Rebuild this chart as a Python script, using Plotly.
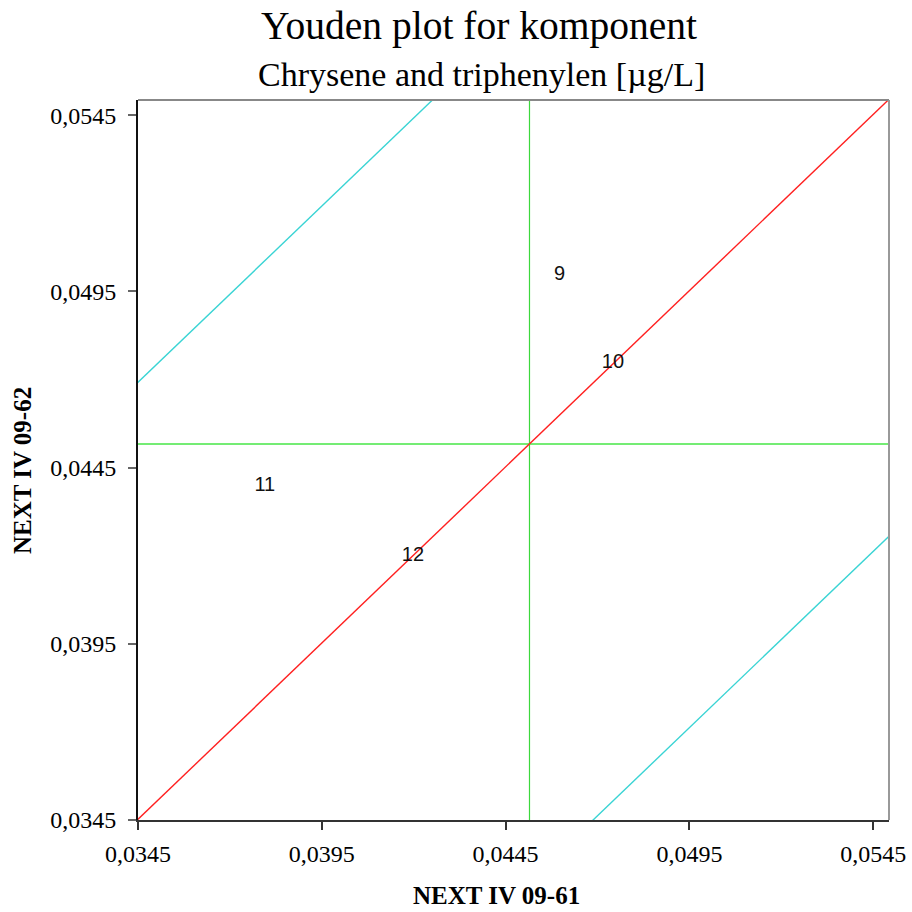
import plotly.graph_objects as go

# Laboratory results for the two samples
labs = ["9", "10", "11", "12"]
sample_61 = [0.04597, 0.04742, 0.03795, 0.04198]
sample_62 = [0.04997, 0.04746, 0.04397, 0.04198]

# Medians of the two samples and the offset of the acceptance limits
median_61 = 0.04515
median_62 = 0.04517
limit_offset = 0.0124

axis_range = [0.0345, 0.05493]
tick_values = [0.0345, 0.0395, 0.0445, 0.0495, 0.0545]

title_lines = ["Youden plot for komponent", "Chrysene and triphenylen [µg/L]"]

serif = "Liberation Serif, Times New Roman, serif"
sans = "Liberation Sans, Arial, sans-serif"

L, R, T, B = 138, 23, 100, 92
W = H = 912
plot_w = W - L - R
plot_h = H - T - B


def px_x(px):
    return (px - L) / plot_w


def px_y(py):
    return (H - B - py) / plot_h


fig = go.Figure()

lo, hi = axis_range
ext = [lo - 0.01, hi + 0.01]

# Median lines
fig.add_trace(go.Scatter(x=[median_61, median_61], y=ext, mode="lines",
                         line=dict(color="#3cd83c", width=1.2), hoverinfo="skip"))
fig.add_trace(go.Scatter(x=ext, y=[median_62, median_62], mode="lines",
                         line=dict(color="#74ec74", width=2), hoverinfo="skip"))

# 45-degree line through the medians
diag_y = [x - median_61 + median_62 for x in ext]
fig.add_trace(go.Scatter(x=ext, y=diag_y, mode="lines",
                         line=dict(color="#ff2020", width=1.4), hoverinfo="skip"))

# Upper and lower limit lines parallel to the diagonal
for sign in (1, -1):
    fig.add_trace(go.Scatter(x=ext, y=[y + sign * limit_offset for y in diag_y], mode="lines",
                             line=dict(color="#3ad4d4", width=1.4), hoverinfo="skip"))

# Laboratory labels at their result pairs
fig.add_trace(go.Scatter(x=sample_61, y=sample_62, mode="text", text=labs,
                         textposition="middle center",
                         textfont=dict(family=sans, size=20, color="#111111"),
                         hoverinfo="skip"))

# Grey top and right frame
fig.add_shape(type="line", xref="paper", yref="paper", x0=0, x1=1, y0=1, y1=1,
              line=dict(color="#888888", width=2))
fig.add_shape(type="line", xref="paper", yref="paper", x0=1, x1=1, y0=0, y1=1,
              line=dict(color="#999999", width=2))

axis_common = dict(
    range=axis_range, tickvals=tick_values, tickformat=".4f",
    showgrid=False, zeroline=False, showline=True, linewidth=2,
    ticks="outside", ticklen=8, tickwidth=1.5, automargin=False,
    tickfont=dict(family=serif, size=24, color="#000000"),
)

annotations = [
    dict(text=title_lines[0], xref="paper", yref="paper",
         x=px_x(479), y=px_y(26), xanchor="center", yanchor="middle",
         showarrow=False, font=dict(family=serif, size=39.5, color="#000000")),
    dict(text=title_lines[1], xref="paper", yref="paper",
         x=px_x(481), y=px_y(75), xanchor="center", yanchor="middle",
         showarrow=False, font=dict(family=serif, size=34, color="#000000")),
    dict(text="<b>NEXT IV 09-61</b>", xref="paper", yref="paper",
         x=px_x(496), y=px_y(895), xanchor="center", yanchor="middle",
         showarrow=False, font=dict(family=serif, size=25, color="#000000")),
    dict(text="<b>NEXT IV 09-62</b>", xref="paper", yref="paper",
         x=px_x(23), y=px_y(471), xanchor="center", yanchor="middle",
         textangle=-90, showarrow=False, font=dict(family=serif, size=25, color="#000000")),
]

fig.update_layout(
    width=W, height=H,
    margin=dict(l=L, r=R, t=T, b=B, autoexpand=False),
    paper_bgcolor="white", plot_bgcolor="white",
    showlegend=False,
    separators=",.",
    xaxis=dict(axis_common, linecolor="#333333", tickcolor="#333333", ticklabelstandoff=3),
    yaxis=dict(axis_common, linecolor="#111111", tickcolor="#666666", ticklabelstandoff=7),
    annotations=annotations,
)

fig.write_html("out.html")
